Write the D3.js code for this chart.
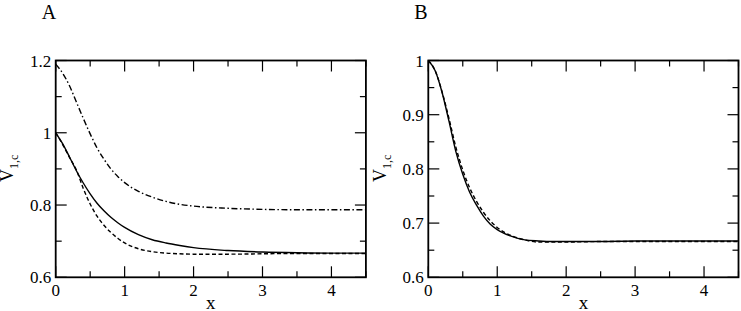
<!DOCTYPE html>
<html>
<head>
<meta charset="utf-8">
<script src="https://cdn.jsdelivr.net/npm/d3@7"></script>
<style>
    body { margin: 0; background: #fff; }
</style>
</head>
<body>
<div id="chart"></div>
<script>
// x samples shared by all curves
const xValues = [0, 0.1, 0.2, 0.3, 0.4, 0.5, 0.6, 0.7, 0.8, 0.9, 1.0, 1.2, 1.4, 1.6, 1.8, 2.0, 2.5, 3.0, 3.5, 4.0, 4.5];

// panel A
const solidA   = [1.0, 0.970, 0.933, 0.895, 0.861, 0.831, 0.805, 0.784, 0.766, 0.751, 0.738, 0.718, 0.704, 0.695, 0.688, 0.682, 0.674, 0.670, 0.668, 0.667, 0.667];
const dashedA  = [1.0, 0.968, 0.932, 0.897, 0.846, 0.803, 0.769, 0.744, 0.724, 0.708, 0.695, 0.679, 0.671, 0.667, 0.665, 0.664, 0.664, 0.665, 0.666, 0.666, 0.666];
const dashDotA = [1.19, 1.165, 1.13, 1.085, 1.04, 0.997, 0.958, 0.927, 0.90, 0.879, 0.862, 0.838, 0.822, 0.810, 0.802, 0.797, 0.791, 0.788, 0.787, 0.787, 0.787];

// panel B
const solidB  = [1.0, 0.981, 0.941, 0.888, 0.832, 0.790, 0.757, 0.733, 0.713, 0.698, 0.688, 0.676, 0.669, 0.667, 0.666, 0.666, 0.666, 0.667, 0.667, 0.667, 0.667];
const dashedB = [1.0, 0.981, 0.942, 0.893, 0.840, 0.798, 0.765, 0.740, 0.720, 0.704, 0.692, 0.677, 0.669, 0.665, 0.665, 0.665, 0.666, 0.666, 0.666, 0.666, 0.666];

// ticks
const xMajorTicks = [0, 1, 2, 3, 4];
const xMinorTicks = [0.5, 1.5, 2.5, 3.5, 4.5];
const yMajorA = [0.6, 0.8, 1.0, 1.2];
const yMinorA = [0.7, 0.9, 1.1];
const yMajorB = [0.6, 0.7, 0.8, 0.9, 1.0];
const yMinorB = [0.65, 0.75, 0.85, 0.95];

const panels = [
    {label: "A", left: 55.7, yDomain: [0.6, 1.2], yMajor: yMajorA, yMinor: yMinorA,
        series: [{y: solidA, dash: null}, {y: dashedA, dash: "4,2.5"}, {y: dashDotA, dash: "6,2.5,1.5,2.5"}]},
    {label: "B", left: 428.3, yDomain: [0.6, 1.0], yMajor: yMajorB, yMinor: yMinorB,
        series: [{y: solidB, dash: null}, {y: dashedB, dash: "4,2.5"}]}
];

const svg = d3.select("#chart").append("svg")
    .attr("width", 741)
    .attr("height", 311)
    .attr("font-family", "'Liberation Serif', 'Times New Roman', serif");

const plotW = 310.2, plotTop = 60.5, plotBottom = 277.3;
const fmt = d => d3.format("")(+d.toFixed(2));

panels.forEach(p => {
    let x = d3.scaleLinear().domain([0, 4.5]).range([p.left, p.left + plotW]);
    let y = d3.scaleLinear().domain(p.yDomain).range([plotBottom, plotTop]);
    let g = svg.append("g");

    // tick marks, inside on all four sides
    let tick = (x1, y1, x2, y2) => g.append("line")
        .attr("x1", x1).attr("y1", y1).attr("x2", x2).attr("y2", y2)
        .attr("stroke", "#000").attr("stroke-width", 1.2);

    xMajorTicks.forEach(v => { tick(x(v), plotBottom, x(v), plotBottom - 11); tick(x(v), plotTop, x(v), plotTop + 11); });
    xMinorTicks.forEach(v => { tick(x(v), plotBottom, x(v), plotBottom - 6); tick(x(v), plotTop, x(v), plotTop + 6); });
    p.yMajor.forEach(v => { tick(p.left, y(v), p.left + 11, y(v)); tick(p.left + plotW, y(v), p.left + plotW - 11, y(v)); });
    p.yMinor.forEach(v => { tick(p.left, y(v), p.left + 6, y(v)); tick(p.left + plotW, y(v), p.left + plotW - 6, y(v)); });

    // tick labels
    g.selectAll(".xl").data(xMajorTicks).enter().append("text")
        .attr("x", d => x(d)).attr("y", 295.5)
        .attr("text-anchor", "middle").attr("font-size", 17)
        .text(d => d);
    g.selectAll(".yl").data(p.yMajor).enter().append("text")
        .attr("x", p.left - 4.5).attr("y", d => y(d) + 6)
        .attr("text-anchor", "end").attr("font-size", 17)
        .text(fmt);

    // curves
    let line = d3.line().x((d, i) => x(xValues[i])).y(d => y(d)).curve(d3.curveMonotoneX);
    p.series.forEach(s => {
        g.append("path")
            .attr("d", line(s.y))
            .attr("fill", "none")
            .attr("stroke", "#000")
            .attr("stroke-width", 1.4)
            .attr("stroke-dasharray", s.dash);
    });

    // frame
    g.append("rect")
        .attr("x", p.left).attr("y", plotTop)
        .attr("width", plotW).attr("height", plotBottom - plotTop)
        .attr("fill", "none").attr("stroke", "#000").attr("stroke-width", 1.8);

    // axis titles
    g.append("text")
        .attr("x", p.left + plotW / 2).attr("y", 309)
        .attr("text-anchor", "middle").attr("font-size", 19)
        .text("x");

    let yl = g.append("text")
        .attr("transform", `translate(${p.left - 42.4}, 182) rotate(-90)`)
        .attr("font-size", 18);
    yl.append("tspan").text("V");
    yl.append("tspan").attr("font-size", 12).attr("dy", 5).text("1,c");

    // panel letter
    g.append("text")
        .attr("x", p.left - 14).attr("y", 18.5)
        .attr("font-size", 20)
        .text(p.label);
});
</script>
</body>
</html>
